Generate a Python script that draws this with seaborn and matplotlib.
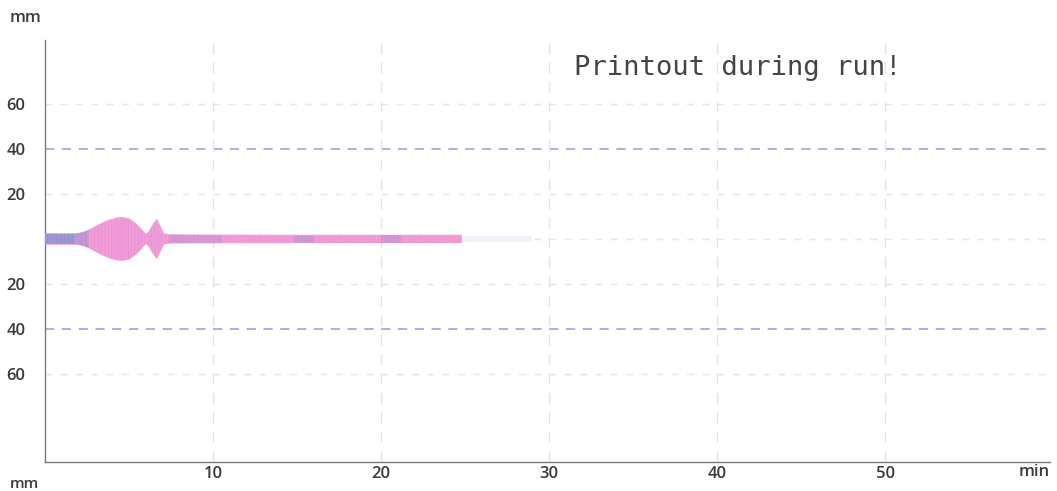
import numpy as np
import pandas as pd
import matplotlib
matplotlib.use("Agg")
import matplotlib.pyplot as plt
import seaborn as sns

# ---- data ----
# envelope of the recorded trace: time (min) and half-amplitude (mm)
env_time = [0.0, 1.0, 2.0, 2.3, 2.8, 3.3, 3.8, 4.3, 4.6, 5.0, 5.4, 5.8, 6.0,
            6.2, 6.45, 6.65, 6.85, 7.05, 7.4, 10.0, 15.0, 20.0, 24.8]
env_half = [2.3, 2.3, 2.3, 2.8, 4.6, 6.6, 8.3, 9.3, 9.5, 8.9, 6.8, 3.6, 2.0,
            3.2, 6.5, 8.6, 5.5, 2.3, 1.8, 1.7, 1.6, 1.6, 1.6]
# segments of the baseline printed in purple-blue instead of pink
purple_start = [0.0, 1.8, 7.4, 14.8, 20.0]
purple_end = [1.8, 2.6, 10.5, 16.0, 21.2]
purple_alpha = [1.0, 0.55, 0.3, 0.4, 0.4]
# faint continuation after the printout stopped
faint_start, faint_end = 24.8, 29.0

x_ticks = [10, 20, 30, 40, 50]
y_ticks = [60, 40, 20, -20, -40, -60]
y_tick_labels = ["60", "40", "20", "20", "40", "60"]
grid_light = [60, 20, 0, -20, -60]
grid_blue = [40, -40]
note_text = "Printout during run!"

# ---- styling ----
sns.set_theme(style="white")
plt.rcParams['font.family'] = ['Open Sans', 'DejaVu Sans']
plt.rcParams['hatch.linewidth'] = 0.4

pink = "#f19cd8"
purple = "#9e98d2"
txt = "#3a3a3a"

fig = plt.figure(figsize=(10.57, 4.91), dpi=100)
ax = fig.add_axes([45 / 1057, 1 - 462 / 491, 1005 / 1057, 422 / 491])
ax.set_xlim(0, 59.8)
ax.set_ylim(-99.1, 88.4)

# grid
for g in grid_light:
    ax.axhline(g, color="#e4e4ec", lw=1.0, ls=(0, (5, 6)), zorder=0)
for g in grid_blue:
    ax.axhline(g, color="#8f9cd2", lw=1.1, ls=(0, (6, 5)), zorder=0)
for t in x_ticks:
    ax.axvline(t, color="#e2e2ea", lw=1.0, ls=(0, (8, 6)), zorder=0)

# trace envelope
et = np.array(env_time)
eh = np.array(env_half)
ax.fill_between(et, -eh, eh, color=pink, lw=0, zorder=2, hatch="|||||",
                edgecolor="#e78ccd")
df = pd.DataFrame({"t": np.concatenate([et, et]),
                   "y": np.concatenate([eh, -eh]),
                   "side": ["up"] * len(et) + ["down"] * len(et)})
sns.lineplot(data=df, x="t", y="y", units="side", estimator=None,
             color=pink, lw=0.8, ax=ax, zorder=3, legend=False)

for s, e, a in zip(purple_start, purple_end, purple_alpha):
    h = np.interp([s, e], et, eh)
    ax.fill_between([s, e], -h, h, color=purple, alpha=a, lw=0, zorder=4,
                    hatch="||||", edgecolor="#8f89c8")

ax.fill_between([faint_start, faint_end], [-1.4, -1.4], [1.4, 1.4],
                color="#edf2fb", lw=0, zorder=1)

# axes / ticks
ax.set_xticks(x_ticks)
ax.set_xticklabels([str(t) for t in x_ticks])
ax.set_yticks(y_ticks)
ax.set_yticklabels(y_tick_labels)
ax.tick_params(axis="both", length=0, labelsize=12, labelcolor=txt)
ax.tick_params(axis="y", pad=14)
ax.tick_params(axis="x", pad=3)
for lab in ax.get_xticklabels() + ax.get_yticklabels():
    lab.set_fontweight("semibold")
ax.set_xlabel("")
ax.set_ylabel("")
for side in ["top", "right"]:
    ax.spines[side].set_visible(False)
for side in ["left", "bottom"]:
    ax.spines[side].set_color("#7a7a80")
    ax.spines[side].set_linewidth(1.0)

# unit labels
fig.text(10 / 1057, 1 - 18 / 491, "mm", fontsize=12, color=txt,
         fontweight="semibold", va="center", ha="left")
fig.text(1050 / 1057, 1 - 472 / 491, "min", fontsize=12, color=txt,
         fontweight="semibold", va="center", ha="right")
fig.text(10 / 1057, 0.5 / 491, "mm", fontsize=11, color=txt,
         fontweight="semibold", va="bottom", ha="left")

# note
ax.text(31.5, 76, note_text, fontsize=19.6, color="#444444",
        family=["DejaVu Sans Mono"], va="center", ha="left")

fig.savefig("out.png", dpi=100)
